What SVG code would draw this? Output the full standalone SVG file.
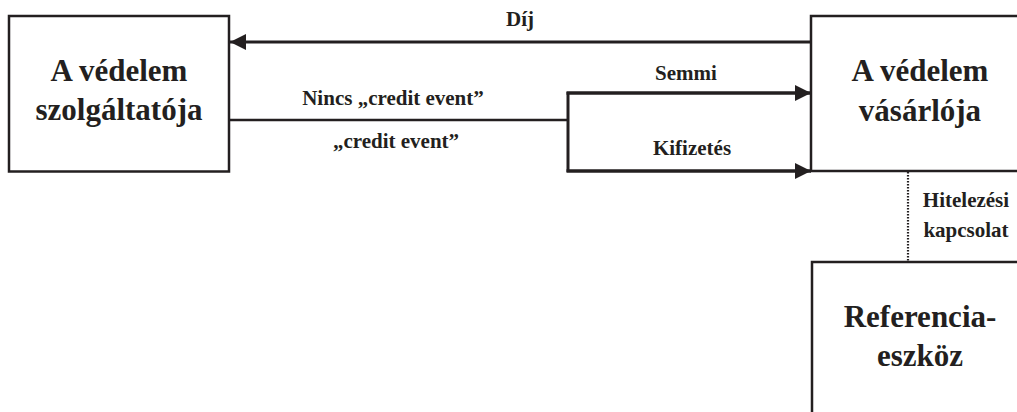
<svg xmlns="http://www.w3.org/2000/svg" width="1017" height="412" viewBox="0 0 1017 412">
  <defs>
    <style>
      .box { fill: #ffffff; stroke: #231f20; stroke-width: 2.5; }
      .main { font-family: "Liberation Serif", "Times New Roman", serif; font-weight: bold; font-size: 31px; fill: #231f20; text-anchor: middle; }
      .lbl { font-family: "Liberation Serif", "Times New Roman", serif; font-weight: bold; font-size: 21px; fill: #231f20; text-anchor: middle; }
      .conn { fill: none; stroke: #231f20; }
    </style>
    <marker id="arrow" viewBox="0 0 16 16" refX="16" refY="8" markerWidth="16" markerHeight="16" markerUnits="userSpaceOnUse" orient="auto">
      <path d="M0,0 L16,8 L0,16 Z" fill="#231f20"/>
    </marker>
  </defs>
  <rect width="1017" height="412" fill="#ffffff"/>

  <g id="connectors">
    <line class="conn" x1="811" y1="42" x2="230" y2="42" stroke-width="3" marker-end="url(#arrow)"/>
    <line class="conn" x1="229" y1="120" x2="568" y2="120" stroke-width="2.5"/>
    <line class="conn" x1="568" y1="92" x2="568" y2="172" stroke-width="3"/>
    <line class="conn" x1="566.5" y1="93" x2="811" y2="93" stroke-width="3.5" marker-end="url(#arrow)"/>
    <line class="conn" x1="566.5" y1="171" x2="811" y2="171" stroke-width="3.5" marker-end="url(#arrow)"/>
    <line class="conn" x1="908" y1="172" x2="908" y2="262" stroke-width="2.2" stroke-dasharray="1.5 1.5"/>
    <text class="lbl" x="520" y="26">Díj</text>
    <text class="lbl" x="393" y="105">Nincs „credit event”</text>
    <text class="lbl" x="396" y="148">„credit event”</text>
    <text class="lbl" x="686" y="80">Semmi</text>
    <text class="lbl" x="692" y="155">Kifizetés</text>
    <text class="lbl" x="966" y="207">Hitelezési</text>
    <text class="lbl" x="966" y="237">kapcsolat</text>
  </g>

  <g id="vedelem-szolgaltatoja">
    <rect class="box" x="9" y="16" width="220" height="155.5"/>
    <text class="main" x="119" y="81">A védelem</text>
    <text class="main" x="119" y="120">szolgáltatója</text>
  </g>

  <g id="vedelem-vasarloja">
    <rect class="box" x="811" y="16" width="240" height="155"/>
    <text class="main" x="920" y="81">A védelem</text>
    <text class="main" x="920" y="121">vásárlója</text>
  </g>

  <g id="referencia-eszkoz">
    <rect class="box" x="812" y="262" width="240" height="200"/>
    <text class="main" x="920" y="327">Referencia-</text>
    <text class="main" x="920" y="366">eszköz</text>
  </g>
</svg>
